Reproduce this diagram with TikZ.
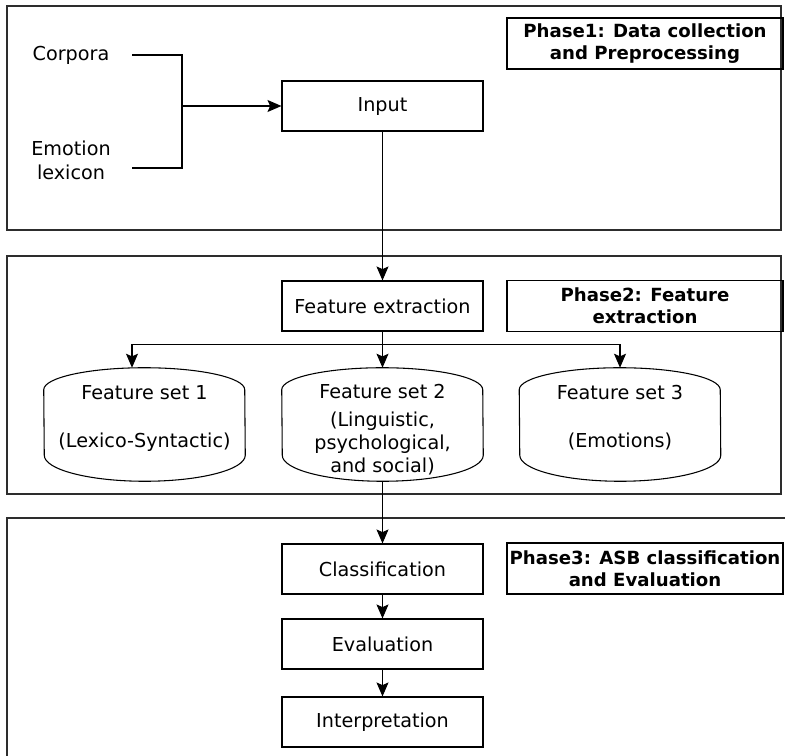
\documentclass[tikz,border=0pt]{standalone}
\usepackage{fontspec}
\setmainfont{DejaVu Sans}
\usepackage{tikz}
\usetikzlibrary{arrows.meta,positioning}
\definecolor{FrameGray}{RGB}{45,45,45}

\begin{document}
\begin{tikzpicture}[x=0.75pt,y=-0.75pt,
  frame/.style={draw=FrameGray,line width=1.5pt},
  proc/.style={draw,line width=0.8pt,minimum width=150.75pt,minimum height=37.5pt,
               inner sep=2pt,align=center,font=\fontsize{14.4}{17}\selectfont},
  phase/.style={draw,line width=1.1pt,minimum width=207pt,minimum height=38.25pt,
                inner sep=2pt,align=center,font=\fontsize{13.6}{16.5}\selectfont\bfseries},
  src/.style={minimum width=91.5pt,inner sep=0pt,align=center,
              font=\fontsize{14.4}{18}\selectfont},
  store/.style={minimum width=150.75pt,minimum height=84.75pt,inner sep=0pt,
                align=center,font=\fontsize{14.4}{17}\selectfont},
  arr/.style={line width=0.8pt,-{Stealth[length=10.5pt,width=9pt,inset=2pt]}},
  conn/.style={line width=0.8pt},
]
\useasboundingbox (0,0) rectangle (785,756);

% Phase frames
\draw[frame] (7,6) rectangle (781,230);
\draw[frame] (7,256) rectangle (781,494);
\draw[frame] (7,518) rectangle (800,790);

% Phase 1 --- data collection
\node[src] (corp) at (71,55) {Corpora};
\node[src] (lex) at (71,160) {Emotion\\lexicon};
\node[proc] (input) at (382.5,106) {Input};
\node[phase] (lab1) at (645,43.5) {Phase1: Data collection\\and Preprocessing};

% Phase 2 --- features
\node[proc] (fe) at (382.5,306) {Feature extraction};
\node[phase] (lab2) at (645,306) {Phase2: Feature\\extraction};
\node[store] (fs1) at (144.5,424.5) {\raisebox{0.9pt}[0pt][0pt]{\begin{tabular}{@{}c@{}}Feature set 1\\[19pt](Lexico-Syntactic)\end{tabular}}};
\node[store] (fs2) at (382.5,424.5) {\raisebox{-8.1pt}[0pt][0pt]{\begin{tabular}{@{}c@{}}Feature set 2\\[4.5pt](Linguistic,\\psychological,\\and social)\end{tabular}}};
\node[store] (fs3) at (620,424.5) {\raisebox{0.9pt}[0pt][0pt]{\begin{tabular}{@{}c@{}}Feature set 3\\[19pt](Emotions)\end{tabular}}};
\foreach \fs in {fs1,fs2,fs3}
  \draw[conn] ([yshift=-16.5pt]\fs.north west)
    arc[start angle=180,end angle=0,x radius=75.375pt,y radius=16.5pt]
    -- ([yshift=19.5pt]\fs.south east)
    arc[start angle=0,end angle=-180,x radius=75.375pt,y radius=19.5pt] -- cycle;

% Phase 3 --- classification
\node[proc] (cl) at (382.5,569) {Classification};
\node[proc] (ev) at (382.5,644) {Evaluation};
\node[proc] (ip) at (382.5,722) {Interpretation};
\node[phase] (lab3) at (645,568.5) {Phase3: ASB classification\\and Evaluation};

% Connectors
\coordinate (jn) at (182,106);
\draw[conn] (corp.east) -| (jn) |- ([yshift=-6pt]lex.east);
\draw[arr] (jn) -- (input.west);
\draw[arr] (input) -- (fe);
\draw[arr] (fe) -- (fs2.north);
\coordinate[below=9.75pt of fe.south] (br);
\draw[arr] (br) -| ([xshift=-9.375pt]fs1.north);
\draw[arr] (br) -| (fs3.north);
\draw[arr] (fs2.south) -- (cl.north);
\draw[arr] (cl) -- (ev);
\draw[arr] (ev) -- (ip);
\end{tikzpicture}
\end{document}
